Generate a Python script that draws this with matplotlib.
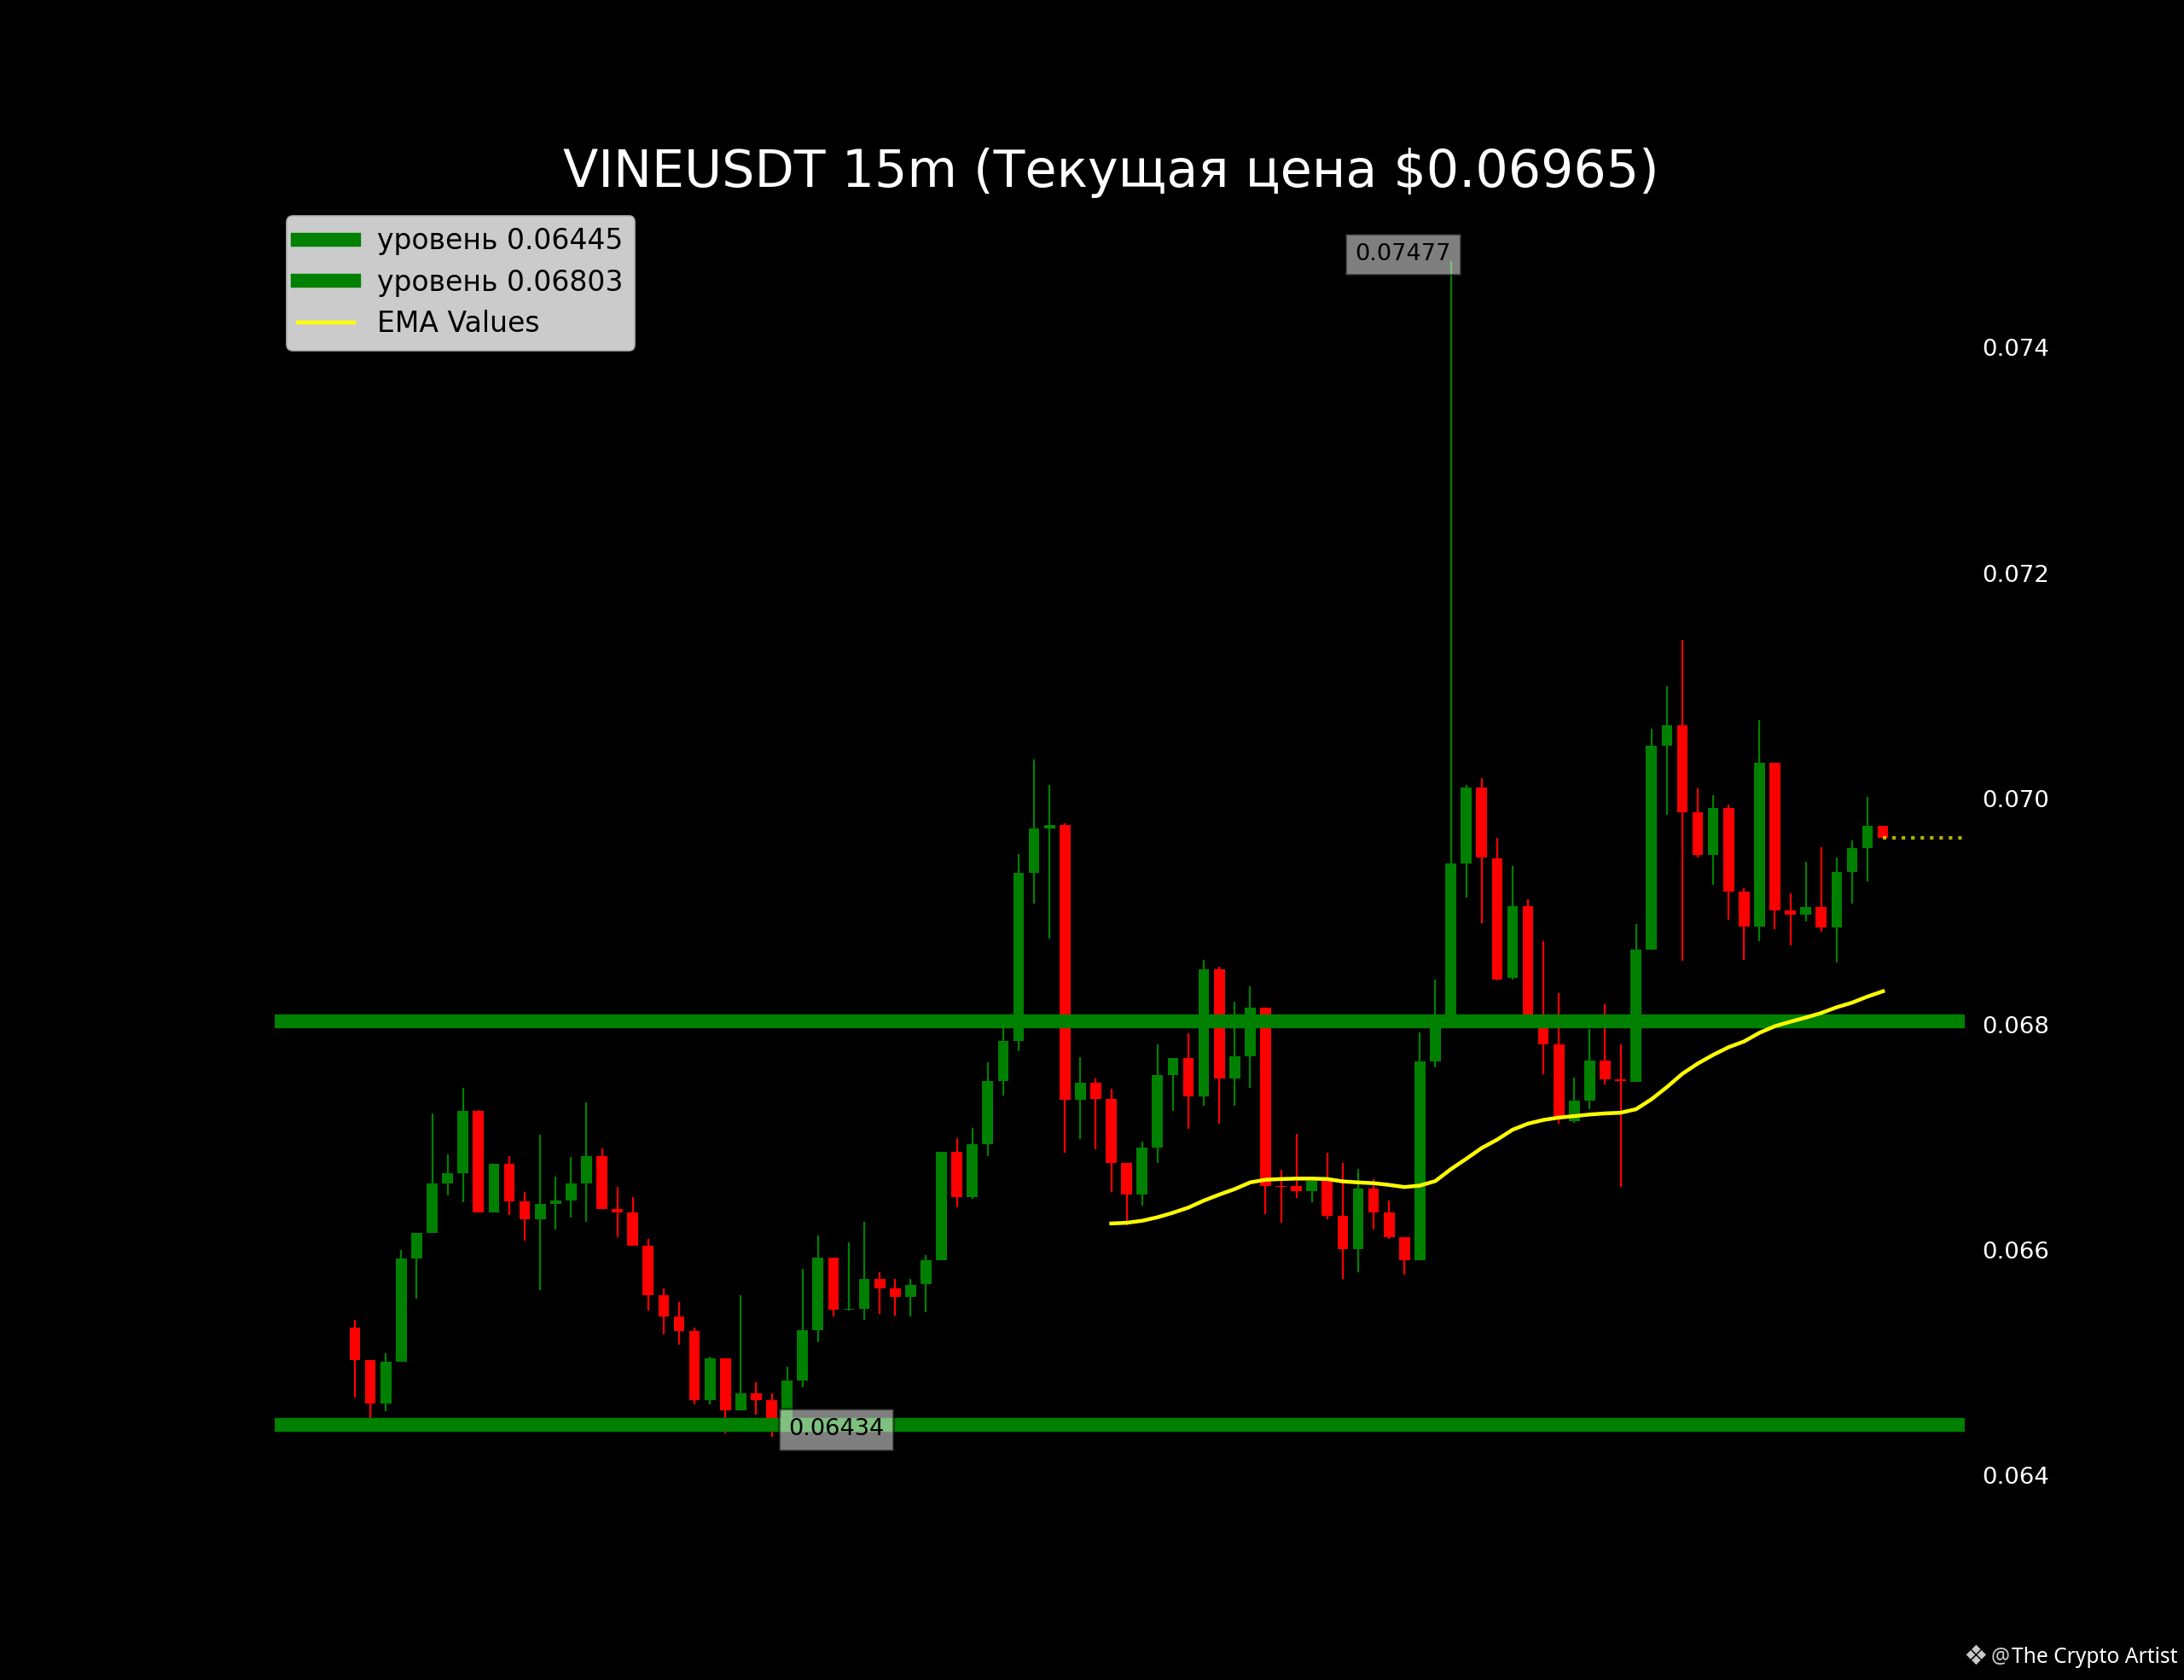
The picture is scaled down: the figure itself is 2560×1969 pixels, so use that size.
import numpy as np
import matplotlib
matplotlib.use('Agg')
import matplotlib.pyplot as plt

opens = [0.06531, 0.06502, 0.06464, 0.06501, 0.06592, 0.06615, 0.06659, 0.06668, 0.06723, 0.06633,
         0.06676, 0.06643, 0.06627, 0.06641, 0.06644, 0.06659, 0.06683, 0.06636, 0.06633, 0.06604,
         0.06560, 0.06541, 0.06528, 0.06467, 0.06504, 0.06458, 0.06473, 0.06467, 0.06451, 0.06484,
         0.06529, 0.06593, 0.06547, 0.06548, 0.06574, 0.06566, 0.06558, 0.06570, 0.06591, 0.06687,
         0.06647, 0.06694, 0.06750, 0.06785, 0.06934, 0.06974, 0.06977, 0.06733, 0.06748, 0.06734,
         0.06677, 0.06649, 0.06691, 0.06755, 0.06770, 0.06736, 0.06849, 0.06752, 0.06772, 0.06815,
         0.06657, 0.06657, 0.06652, 0.06661, 0.06630, 0.06601, 0.06654, 0.06633, 0.06611, 0.06591,
         0.06767, 0.06803, 0.06943, 0.07010, 0.06947, 0.06841, 0.06905, 0.06805, 0.06782, 0.06714,
         0.06732, 0.06768, 0.06751, 0.06749, 0.06866, 0.07047, 0.07065, 0.06988, 0.06950, 0.06992,
         0.06918, 0.06887, 0.07032, 0.06901, 0.06897, 0.06904, 0.06886, 0.06935, 0.06956, 0.06976]
highs = [0.06538, 0.06502, 0.06508, 0.06600, 0.06615, 0.06721, 0.06685, 0.06744, 0.06724, 0.06676,
         0.06683, 0.06651, 0.06702, 0.06665, 0.06682, 0.06731, 0.06690, 0.06656, 0.06647, 0.06610,
         0.06566, 0.06554, 0.06531, 0.06505, 0.06504, 0.06560, 0.06483, 0.06473, 0.06496, 0.06583,
         0.06613, 0.06593, 0.06607, 0.06625, 0.06580, 0.06574, 0.06574, 0.06595, 0.06687, 0.06699,
         0.06708, 0.06766, 0.06800, 0.06951, 0.07035, 0.07012, 0.06978, 0.06771, 0.06752, 0.06743,
         0.06677, 0.06696, 0.06782, 0.06770, 0.06792, 0.06857, 0.06851, 0.06820, 0.06834, 0.06815,
         0.06671, 0.06703, 0.06662, 0.06686, 0.06677, 0.06672, 0.06663, 0.06644, 0.06611, 0.06793,
         0.06840, 0.07477, 0.07012, 0.07018, 0.06965, 0.06940, 0.06911, 0.06874, 0.06828, 0.06753,
         0.06796, 0.06818, 0.06782, 0.06889, 0.07062, 0.07100, 0.07141, 0.07009, 0.07003, 0.06995,
         0.06921, 0.07070, 0.07032, 0.06916, 0.06944, 0.06957, 0.06948, 0.06963, 0.07002, 0.06976]
lows = [0.06469, 0.06451, 0.06457, 0.06501, 0.06557, 0.06615, 0.06648, 0.06642, 0.06633, 0.06633,
        0.06631, 0.06608, 0.06564, 0.06618, 0.06629, 0.06625, 0.06636, 0.06611, 0.06604, 0.06546,
        0.06525, 0.06516, 0.06463, 0.06463, 0.06437, 0.06458, 0.06454, 0.06434, 0.06445, 0.06478,
        0.06518, 0.06541, 0.06546, 0.06538, 0.06543, 0.06542, 0.06541, 0.06545, 0.06591, 0.06638,
        0.06645, 0.06683, 0.06737, 0.06776, 0.06907, 0.06876, 0.06686, 0.06698, 0.06689, 0.06651,
        0.06622, 0.06639, 0.06677, 0.06723, 0.06707, 0.06728, 0.06712, 0.06728, 0.06744, 0.06632,
        0.06624, 0.06646, 0.06642, 0.06627, 0.06574, 0.06580, 0.06618, 0.06610, 0.06578, 0.06591,
        0.06762, 0.06800, 0.06912, 0.06890, 0.06839, 0.06840, 0.06805, 0.06756, 0.06712, 0.06713,
        0.06725, 0.06747, 0.06656, 0.06749, 0.06866, 0.06986, 0.06856, 0.06948, 0.06924, 0.06893,
        0.06857, 0.06874, 0.06884, 0.06870, 0.06891, 0.06882, 0.06855, 0.06907, 0.06927, 0.06965]
closes = [0.06502, 0.06464, 0.06501, 0.06592, 0.06615, 0.06659, 0.06668, 0.06723, 0.06633, 0.06676,
          0.06643, 0.06627, 0.06641, 0.06644, 0.06659, 0.06683, 0.06636, 0.06633, 0.06604, 0.06560,
          0.06541, 0.06528, 0.06467, 0.06504, 0.06458, 0.06473, 0.06467, 0.06451, 0.06484, 0.06529,
          0.06593, 0.06547, 0.06548, 0.06574, 0.06566, 0.06558, 0.06569, 0.06591, 0.06687, 0.06647,
          0.06694, 0.06750, 0.06785, 0.06934, 0.06974, 0.06977, 0.06733, 0.06748, 0.06734, 0.06677,
          0.06649, 0.06691, 0.06755, 0.06770, 0.06736, 0.06849, 0.06752, 0.06772, 0.06815, 0.06657,
          0.06656, 0.06652, 0.06661, 0.06630, 0.06601, 0.06654, 0.06633, 0.06611, 0.06591, 0.06767,
          0.06803, 0.06943, 0.07010, 0.06948, 0.06840, 0.06905, 0.06805, 0.06782, 0.06717, 0.06732,
          0.06768, 0.06751, 0.06750, 0.06866, 0.07047, 0.07065, 0.06988, 0.06950, 0.06992, 0.06918,
          0.06887, 0.07032, 0.06901, 0.06897, 0.06904, 0.06886, 0.06935, 0.06956, 0.06976, 0.06965]

# EMA starts at candle 49
ema_start = 49
ema_values = [0.066234, 0.066240, 0.066258, 0.066289, 0.066329, 0.066375, 0.066437, 0.066490, 0.066539,
              0.066598, 0.066622, 0.066628, 0.066632, 0.066632, 0.066628, 0.066607, 0.066598, 0.066591,
              0.066576, 0.066557, 0.066570, 0.066610, 0.066715, 0.066807, 0.066903, 0.066977, 0.067065,
              0.067119, 0.067152, 0.067173, 0.067186, 0.067200, 0.067210, 0.067216, 0.067247, 0.067335,
              0.067443, 0.067561, 0.067652, 0.067729, 0.067797, 0.067848, 0.067925, 0.067983, 0.068023,
              0.068060, 0.068100, 0.068151, 0.068192, 0.068246, 0.068293]

levels = [0.06445, 0.06803]
current_price = 0.06965
title = 'VINEUSDT 15m (Текущая цена $0.06965)'
y_ticks = [0.064, 0.066, 0.068, 0.070, 0.072, 0.074]

W, H = 2560, 1969
fig = plt.figure(figsize=(W / 200, H / 200), dpi=200, facecolor='black')
ax = fig.add_axes([322 / W, (H - 1753) / H, (2303 - 322) / W, (1753 - 233) / H], facecolor='black')

x = np.arange(len(opens))
opens = np.array(opens)
closes = np.array(closes)
highs = np.array(highs)
lows = np.array(lows)
colors = np.where(closes >= opens, 'green', 'red')

# candles
ax.vlines(x, lows, highs, colors=colors, linewidth=0.8, zorder=1)
ax.bar(x, np.abs(closes - opens), width=0.7, bottom=np.minimum(opens, closes), color=colors, zorder=2)

# support / resistance levels
for level in levels:
    ax.axhline(level, color='green', linewidth=5.9, label=f'уровень {level}', zorder=3)

ax.plot(x[ema_start:], ema_values, color='yellow', linewidth=1.6, label='EMA Values', zorder=4)

ax.set_xlim(-5.2, 104.3)
ax.set_ylim(0.06382, 0.07532)
ax.plot([x[-1], ax.get_xlim()[1]], [current_price, current_price], color='yellow', alpha=0.7,
        linewidth=1.5, linestyle=':', zorder=4)

# max / min labels
i_max = int(np.argmax(highs))
i_min = int(np.argmin(lows))
box = dict(facecolor='white', alpha=0.5)
ax.annotate(f'{highs[i_max]:.5f}', xy=(i_max, highs[i_max]), xytext=(0, 2.7), textcoords='offset points',
            ha='right', va='center', fontsize=9.8, color='black', bbox=box, zorder=5)
ax.annotate(f'{lows[i_min]:.5f}', xy=(i_min, lows[i_min]), xytext=(7.0, 3.2), textcoords='offset points',
            ha='left', va='center', fontsize=9.8, color='black', bbox=box, zorder=5)

ax.yaxis.tick_right()
ax.set_yticks(y_ticks)
ax.set_yticklabels([f'{t:.3f}' for t in y_ticks])
ax.set_xticks([])
ax.tick_params(axis='y', color='black', labelcolor='white', labelsize=9.9, pad=3.9)
for spine in ax.spines.values():
    spine.set_color('black')

ax.set_title(title, color='white', fontsize=21.7, x=(1302 - 322) / 1981, pad=5)
ax.legend(loc='upper left', bbox_to_anchor=(0.0071, 0.9868), fontsize=11.9, borderaxespad=0,
          handletextpad=0.8, labelspacing=0.47)

# watermark
fig.text(2552 / W, (H - 1942) / H, 'The Crypto Artist', color='white', fontsize=8.85,
         family='Noto Sans', ha='right', va='center')
fig.text(2345 / W, (H - 1942) / H, '@', color='#c8c8c8', fontsize=8.85, family='Noto Sans', ha='center', va='center')
fig.text(2316 / W, (H - 1942) / H, '❖', color='#c8c8c8', fontsize=11.5, family='DejaVu Sans', ha='center', va='center')

fig.savefig('out.png', dpi=200, facecolor='black')
